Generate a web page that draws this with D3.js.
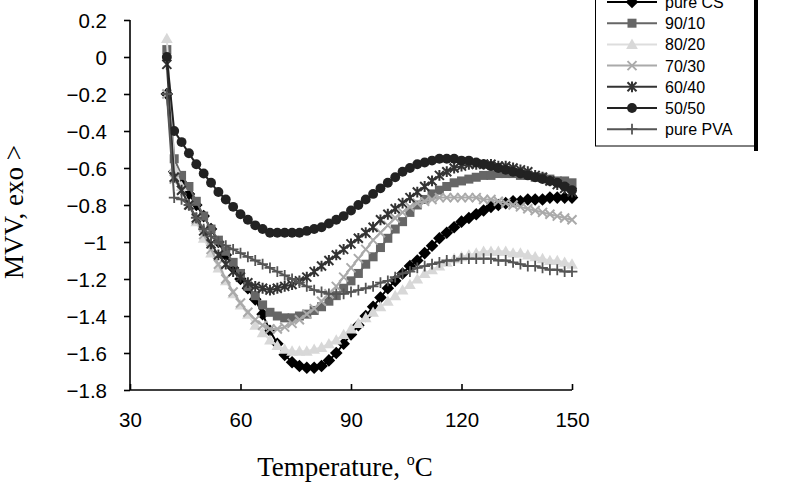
<!DOCTYPE html>
<html><head><meta charset="utf-8">
<script src="https://cdn.jsdelivr.net/npm/d3@7"></script>
<style>body{margin:0;background:#fff}</style>
</head><body><svg id="c" width="785" height="482"></svg>
<script>
const temps = d3.range(40, 151, 2);
const seriesNames = ["pure CS","90/10","80/20","70/30","60/40","50/50","pure PVA"];
const pureCS = [-0.20,-0.62,-0.68,-0.74,-0.80,-0.86,-0.93,-1.00,-1.07,-1.14,-1.20,-1.25,-1.31,-1.39,-1.48,-1.55,-1.61,-1.65,-1.67,-1.68,-1.68,-1.67,-1.64,-1.60,-1.55,-1.50,-1.45,-1.40,-1.35,-1.30,-1.25,-1.21,-1.17,-1.13,-1.10,-1.06,-1.02,-0.98,-0.95,-0.92,-0.89,-0.87,-0.85,-0.83,-0.81,-0.80,-0.79,-0.78,-0.78,-0.77,-0.77,-0.77,-0.76,-0.76,-0.76,-0.76];
const s9010 = [0.04,-0.55,-0.64,-0.70,-0.78,-0.86,-0.93,-0.99,-1.05,-1.11,-1.17,-1.24,-1.29,-1.34,-1.38,-1.40,-1.41,-1.41,-1.40,-1.39,-1.37,-1.35,-1.32,-1.29,-1.25,-1.21,-1.17,-1.12,-1.08,-1.03,-0.98,-0.93,-0.89,-0.84,-0.80,-0.77,-0.74,-0.72,-0.70,-0.68,-0.67,-0.66,-0.65,-0.64,-0.64,-0.63,-0.63,-0.63,-0.64,-0.64,-0.65,-0.65,-0.66,-0.67,-0.67,-0.68];
const s8020 = [0.10,-0.60,-0.70,-0.80,-0.89,-0.98,-1.06,-1.14,-1.21,-1.28,-1.34,-1.39,-1.45,-1.49,-1.53,-1.56,-1.58,-1.59,-1.59,-1.59,-1.58,-1.57,-1.55,-1.53,-1.50,-1.47,-1.44,-1.41,-1.38,-1.35,-1.32,-1.29,-1.26,-1.23,-1.20,-1.17,-1.15,-1.13,-1.11,-1.09,-1.08,-1.07,-1.06,-1.05,-1.05,-1.05,-1.05,-1.06,-1.06,-1.07,-1.08,-1.09,-1.10,-1.10,-1.11,-1.12];
const s7030 = [-0.20,-0.66,-0.72,-0.80,-0.88,-0.96,-1.04,-1.12,-1.20,-1.27,-1.33,-1.38,-1.42,-1.45,-1.47,-1.47,-1.46,-1.44,-1.42,-1.39,-1.36,-1.32,-1.28,-1.24,-1.19,-1.14,-1.09,-1.04,-0.99,-0.95,-0.91,-0.87,-0.84,-0.81,-0.79,-0.78,-0.77,-0.76,-0.76,-0.76,-0.76,-0.76,-0.76,-0.77,-0.77,-0.78,-0.79,-0.80,-0.81,-0.82,-0.83,-0.84,-0.85,-0.86,-0.87,-0.88];
const s6040 = [-0.04,-0.65,-0.72,-0.80,-0.87,-0.94,-1.01,-1.07,-1.12,-1.16,-1.19,-1.22,-1.24,-1.25,-1.26,-1.25,-1.24,-1.23,-1.21,-1.19,-1.16,-1.13,-1.10,-1.07,-1.04,-1.01,-0.98,-0.95,-0.92,-0.88,-0.85,-0.82,-0.79,-0.76,-0.73,-0.70,-0.67,-0.64,-0.62,-0.60,-0.59,-0.58,-0.58,-0.58,-0.58,-0.59,-0.59,-0.60,-0.61,-0.62,-0.64,-0.65,-0.67,-0.69,-0.71,-0.73];
const s5050 = [0.00,-0.40,-0.46,-0.52,-0.58,-0.63,-0.68,-0.73,-0.77,-0.81,-0.85,-0.88,-0.91,-0.93,-0.95,-0.95,-0.95,-0.95,-0.95,-0.94,-0.93,-0.92,-0.90,-0.88,-0.86,-0.83,-0.80,-0.77,-0.74,-0.71,-0.68,-0.65,-0.62,-0.60,-0.58,-0.57,-0.56,-0.55,-0.55,-0.55,-0.56,-0.56,-0.57,-0.58,-0.59,-0.60,-0.61,-0.62,-0.63,-0.64,-0.65,-0.66,-0.67,-0.68,-0.70,-0.72];
const purePVA = [-0.20,-0.76,-0.77,-0.80,-0.87,-0.93,-0.97,-1.00,-1.02,-1.04,-1.06,-1.08,-1.10,-1.12,-1.14,-1.16,-1.18,-1.20,-1.22,-1.24,-1.26,-1.27,-1.28,-1.28,-1.28,-1.27,-1.26,-1.25,-1.24,-1.22,-1.21,-1.19,-1.17,-1.16,-1.14,-1.13,-1.12,-1.11,-1.10,-1.10,-1.09,-1.09,-1.09,-1.09,-1.09,-1.10,-1.10,-1.11,-1.12,-1.13,-1.13,-1.14,-1.15,-1.15,-1.16,-1.16];
const xTicks = [30,60,90,120,150];
const yTicks = [0.2,0,-0.2,-0.4,-0.6,-0.8,-1,-1.2,-1.4,-1.6,-1.8];

const series = [
 {name:seriesNames[0], v:pureCS, c:"#000", m:"diamond", mc:"#000"},
 {name:seriesNames[1], v:s9010, c:"#666", m:"square", mc:"#666"},
 {name:seriesNames[2], v:s8020, c:"#ddd", m:"triangle", mc:"#d8d8d8"},
 {name:seriesNames[3], v:s7030, c:"#aaa", m:"x", mc:"#aaa"},
 {name:seriesNames[4], v:s6040, c:"#333", m:"star", mc:"#333"},
 {name:seriesNames[5], v:s5050, c:"#222", m:"circle", mc:"#222"},
 {name:seriesNames[6], v:purePVA, c:"#555", m:"plus", mc:"#555"}
];
const svg = d3.select("#c");
const x = d3.scaleLinear().domain([30,150]).range([130,572]);
const y = d3.scaleLinear().domain([-1.8,0.2]).range([390,20]);

function marker(g, type, col, s){
  if(type==="circle") g.append("circle").attr("r",s*0.55).attr("fill",col);
  else if(type==="square") g.append("rect").attr("x",-s*0.5).attr("y",-s*0.5).attr("width",s).attr("height",s).attr("fill",col);
  else if(type==="diamond") g.append("path").attr("d",`M0,${-s*0.7}L${s*0.7},0L0,${s*0.7}L${-s*0.7},0Z`).attr("fill",col);
  else if(type==="triangle") g.append("path").attr("d",`M0,${-s*0.65}L${s*0.65},${s*0.5}L${-s*0.65},${s*0.5}Z`).attr("fill",col);
  else if(type==="x") g.append("path").attr("d",`M${-s*.5},${-s*.5}L${s*.5},${s*.5}M${-s*.5},${s*.5}L${s*.5},${-s*.5}`).attr("stroke",col).attr("stroke-width",2);
  else if(type==="star") g.append("path").attr("d",`M${-s*.5},${-s*.5}L${s*.5},${s*.5}M${-s*.5},${s*.5}L${s*.5},${-s*.5}M0,${-s*.6}L0,${s*.6}`).attr("stroke",col).attr("stroke-width",2);
  else if(type==="plus") g.append("path").attr("d",`M${-s*.6},0L${s*.6},0M0,${-s*.6}L0,${s*.6}`).attr("stroke",col).attr("stroke-width",1.8);
}

const line = d3.line().x((d,i)=>x(temps[i])).y(d=>y(d));
series.forEach(s=>{
  svg.append("path").attr("d",line(s.v)).attr("fill","none").attr("stroke",s.c).attr("stroke-width",2);
  s.v.forEach((d,i)=>{
    const g = svg.append("g").attr("transform",`translate(${x(temps[i])},${y(d)})`);
    marker(g,s.m,s.mc,9);
  });
});

// axes
const ax = svg.append("g").attr("transform","translate(0,390)")
  .call(d3.axisBottom(x).tickValues(xTicks).tickSize(-6).tickPadding(22).tickFormat(d3.format("d")));
const ay = svg.append("g").attr("transform","translate(130,0)")
  .call(d3.axisLeft(y).tickValues(yTicks).tickSize(6).tickPadding(17).tickFormat(d=>d3.format("")(Math.round(d*10)/10)));
[ax,ay].forEach(a=>{
  a.select(".domain").attr("stroke","#000").attr("stroke-width",1.6);
  a.selectAll("line").attr("stroke","#000").attr("stroke-width",1.6);
  a.selectAll("text").attr("font-family","Liberation Sans, Arial").attr("font-size",20.5).attr("fill","#000");
});
ay.selectAll("text").attr("dy","0.36em");
ax.selectAll("text").attr("dy","0.72em");
ay.select(".domain").attr("d","M0,390V20");
ax.select(".domain").attr("d","M130,0H572");

svg.append("text").attr("transform","translate(23,212) rotate(-90)").attr("text-anchor","middle")
  .attr("font-family","Liberation Serif, Times New Roman").attr("font-size",27).text("MVV, exo >");
const t = svg.append("text").attr("x",345).attr("y",476).attr("text-anchor","middle")
  .attr("font-family","Liberation Serif, Times New Roman").attr("font-size",27);
t.append("tspan").text("Temperature, ");
t.append("tspan").attr("font-size",16).attr("dy",-11).text("o");
t.append("tspan").attr("dy",11).text("C");

// legend
const lg = svg.append("g");
lg.append("rect").attr("x",754).attr("y",-5).attr("width",4).attr("height",156).attr("fill","#000");
lg.append("rect").attr("x",595.5).attr("y",-5).attr("width",159).attr("height",151).attr("fill","#fff").attr("stroke","#000").attr("stroke-width",1);
series.forEach((s,i)=>{
  const yy = 2 + i*21.2;
  lg.append("line").attr("x1",607).attr("x2",657).attr("y1",yy).attr("y2",yy).attr("stroke",s.c).attr("stroke-width",2);
  const g = lg.append("g").attr("transform",`translate(632,${yy})`);
  marker(g,s.m,s.mc,9);
  lg.append("text").attr("x",665).attr("y",yy+6).attr("font-family","Liberation Sans, Arial").attr("font-size",16).text(s.name);
});
</script></body></html>
